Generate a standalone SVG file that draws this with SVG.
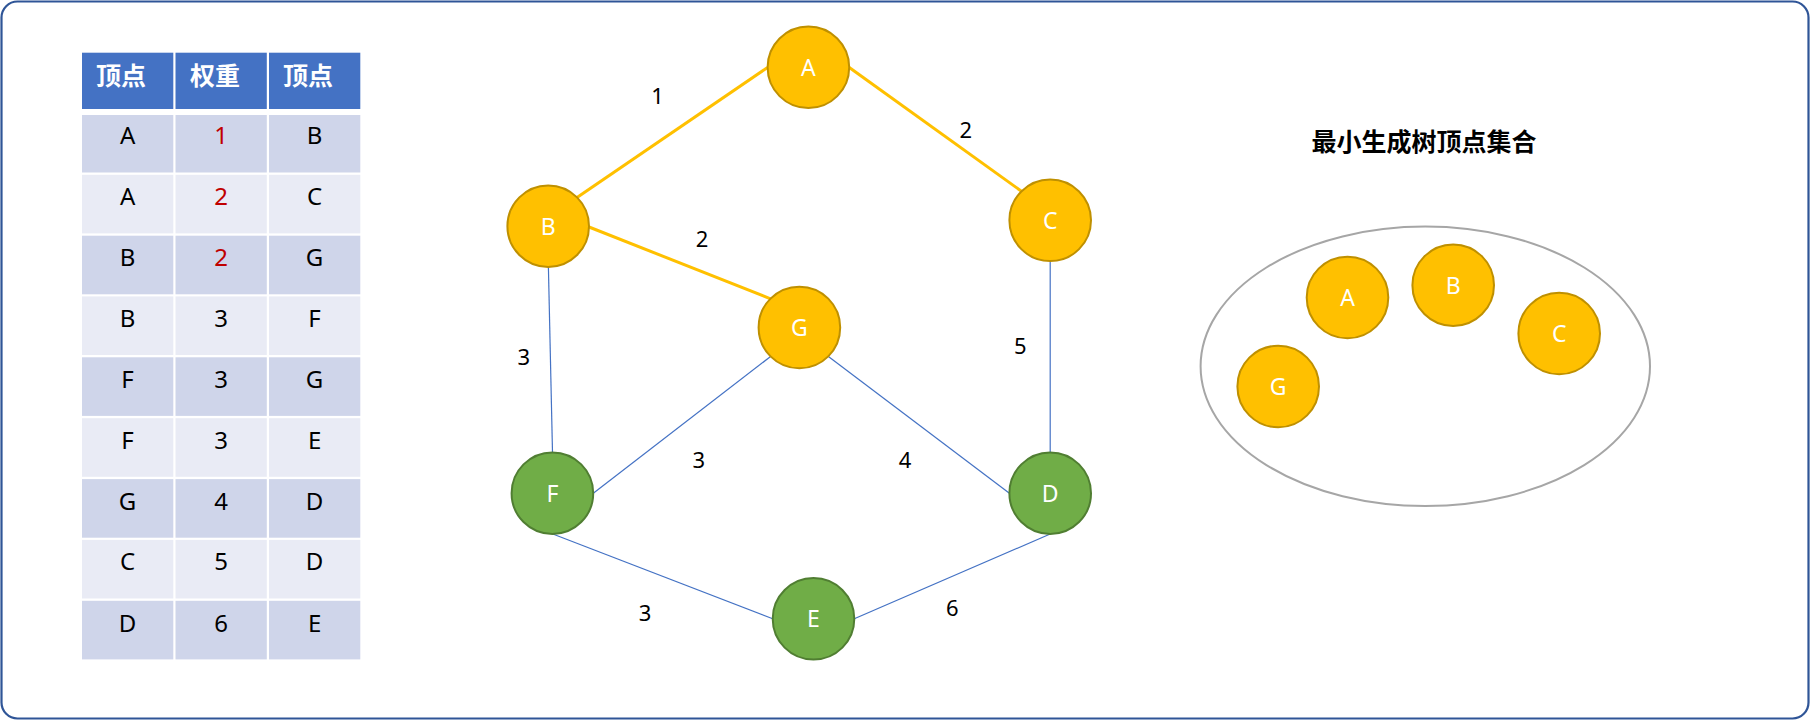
<svg xmlns="http://www.w3.org/2000/svg" width="1810" height="720" viewBox="0 0 1810 720">
<style>
.frame{fill:#fff;stroke:#2F5597;stroke-width:2.2}
.hdr{fill:#4472C4}
.odd{fill:#CFD5EA}
.even{fill:#E9EBF5}
.ht{font-family:"Noto Sans CJK SC","Noto Sans",sans-serif;font-weight:bold;font-size:25px;fill:#fff}
.tt{font-family:"Noto Sans","Open Sans",sans-serif;font-size:24px;fill:#000;text-anchor:middle}
.red{fill:#C00000}
.gold{fill:#FFC000;stroke:#BF9000;stroke-width:2}
.green{fill:#70AD47;stroke:#507E32;stroke-width:2}
.nl{font-family:"Noto Sans","Open Sans",sans-serif;font-size:23px;fill:#fff;text-anchor:middle}
.el{font-family:"Noto Sans","Open Sans",sans-serif;font-size:22px;fill:#000;text-anchor:middle}
.mst{stroke:#FFC000;stroke-width:3;fill:none}
.thin{stroke:#4472C4;stroke-width:1.2;fill:none}
.title{font-family:"Noto Sans CJK SC","Noto Sans",sans-serif;font-weight:bold;font-size:25px;fill:#000;text-anchor:middle}
.set{fill:none;stroke:#A6A6A6;stroke-width:2}
</style>
<rect class="frame" x="1.5" y="1.5" width="1807" height="717" rx="16" ry="16"/>
<g id="table">
<rect class="hdr" x="82" y="52.7" width="91.3" height="56.3"/>
<rect class="hdr" x="175.5" y="52.7" width="91.3" height="56.3"/>
<rect class="hdr" x="269" y="52.7" width="91.3" height="56.3"/>
<text class="ht" x="96" y="85">顶点</text>
<text class="ht" x="190" y="85">权重</text>
<text class="ht" x="283" y="85">顶点</text>
<g class="odd"><rect x="82" y="115" width="91.3" height="57.5"/><rect x="175.5" y="115" width="91.3" height="57.5"/><rect x="269" y="115" width="91.3" height="57.5"/></g>
<g class="even"><rect x="82" y="174.8" width="91.3" height="58.6"/><rect x="175.5" y="174.8" width="91.3" height="58.6"/><rect x="269" y="174.8" width="91.3" height="58.6"/></g>
<g class="odd"><rect x="82" y="235.7" width="91.3" height="58.6"/><rect x="175.5" y="235.7" width="91.3" height="58.6"/><rect x="269" y="235.7" width="91.3" height="58.6"/></g>
<g class="even"><rect x="82" y="296.4" width="91.3" height="58.6"/><rect x="175.5" y="296.4" width="91.3" height="58.6"/><rect x="269" y="296.4" width="91.3" height="58.6"/></g>
<g class="odd"><rect x="82" y="357.3" width="91.3" height="58.6"/><rect x="175.5" y="357.3" width="91.3" height="58.6"/><rect x="269" y="357.3" width="91.3" height="58.6"/></g>
<g class="even"><rect x="82" y="418.2" width="91.3" height="58.6"/><rect x="175.5" y="418.2" width="91.3" height="58.6"/><rect x="269" y="418.2" width="91.3" height="58.6"/></g>
<g class="odd"><rect x="82" y="479.1" width="91.3" height="58.6"/><rect x="175.5" y="479.1" width="91.3" height="58.6"/><rect x="269" y="479.1" width="91.3" height="58.6"/></g>
<g class="even"><rect x="82" y="539.9" width="91.3" height="58.6"/><rect x="175.5" y="539.9" width="91.3" height="58.6"/><rect x="269" y="539.9" width="91.3" height="58.6"/></g>
<g class="odd"><rect x="82" y="600.8" width="91.3" height="58.6"/><rect x="175.5" y="600.8" width="91.3" height="58.6"/><rect x="269" y="600.8" width="91.3" height="58.6"/></g>
<text class="tt" x="127.6" y="144">A</text><text class="tt red" x="221.2" y="144">1</text><text class="tt" x="314.6" y="144">B</text>
<text class="tt" x="127.6" y="205">A</text><text class="tt red" x="221.2" y="205">2</text><text class="tt" x="314.6" y="205">C</text>
<text class="tt" x="127.6" y="266">B</text><text class="tt red" x="221.2" y="266">2</text><text class="tt" x="314.6" y="266">G</text>
<text class="tt" x="127.6" y="326.8">B</text><text class="tt" x="221.2" y="326.8">3</text><text class="tt" x="314.6" y="326.8">F</text>
<text class="tt" x="127.6" y="388">F</text><text class="tt" x="221.2" y="388">3</text><text class="tt" x="314.6" y="388">G</text>
<text class="tt" x="127.6" y="449">F</text><text class="tt" x="221.2" y="449">3</text><text class="tt" x="314.6" y="449">E</text>
<text class="tt" x="127.6" y="509.5">G</text><text class="tt" x="221.2" y="509.5">4</text><text class="tt" x="314.6" y="509.5">D</text>
<text class="tt" x="127.6" y="570.3">C</text><text class="tt" x="221.2" y="570.3">5</text><text class="tt" x="314.6" y="570.3">D</text>
<text class="tt" x="127.6" y="631.5">D</text><text class="tt" x="221.2" y="631.5">6</text><text class="tt" x="314.6" y="631.5">E</text>
</g>
<g id="connectors">
<line class="mst" x1="767.5" y1="67.5" x2="577" y2="197.5"/>
<line class="mst" x1="849.3" y1="67.5" x2="1021.8" y2="191.5"/>
<line class="mst" x1="589" y1="227" x2="770.6" y2="298.8"/>
<line class="thin" x1="548.4" y1="267" x2="552.5" y2="452.3"/>
<line class="thin" x1="1050.2" y1="261" x2="1050.2" y2="452.3"/>
<line class="thin" x1="770.6" y1="356.5" x2="593.3" y2="493.2"/>
<line class="thin" x1="828.4" y1="356.5" x2="1009.4" y2="493.2"/>
<line class="thin" x1="552.8" y1="534" x2="772.7" y2="618.8"/>
<line class="thin" x1="854.3" y1="618.8" x2="1050.2" y2="534"/>
<text class="el" x="657.6" y="104">1</text>
<text class="el" x="965.7" y="137.7">2</text>
<text class="el" x="702" y="246.7">2</text>
<text class="el" x="523.7" y="365">3</text>
<text class="el" x="1020.4" y="354">5</text>
<text class="el" x="698.8" y="468.3">3</text>
<text class="el" x="905" y="467.7">4</text>
<text class="el" x="645" y="621">3</text>
<text class="el" x="952.2" y="616">6</text>
</g>
<g id="node-A"><circle class="gold" cx="808.4" cy="67.3" r="40.8"/><text class="nl" x="808.4" y="75.8">A</text></g>
<g id="node-B"><circle class="gold" cx="548.2" cy="226.2" r="40.8"/><text class="nl" x="548.2" y="234.7">B</text></g>
<g id="node-C"><circle class="gold" cx="1050.2" cy="220.3" r="40.8"/><text class="nl" x="1050.2" y="228.8">C</text></g>
<g id="node-G"><circle class="gold" cx="799.4" cy="327.5" r="40.8"/><text class="nl" x="799.4" y="336">G</text></g>
<g id="node-F"><circle class="green" cx="552.4" cy="493.2" r="40.8"/><text class="nl" x="552.4" y="501.7">F</text></g>
<g id="node-D"><circle class="green" cx="1050.2" cy="493.2" r="40.8"/><text class="nl" x="1050.2" y="501.7">D</text></g>
<g id="node-E"><circle class="green" cx="813.5" cy="618.8" r="40.8"/><text class="nl" x="813.5" y="627.3">E</text></g>
<g id="mst-set">
<text class="title" x="1424" y="150.5">最小生成树顶点集合</text>
<ellipse class="set" cx="1425.3" cy="366.3" rx="224.7" ry="139.7"/>
<g id="set-A"><circle class="gold" cx="1347.5" cy="297.5" r="40.8"/><text class="nl" x="1347.5" y="306">A</text></g>
<g id="set-B"><circle class="gold" cx="1453.2" cy="285.2" r="40.8"/><text class="nl" x="1453.2" y="293.7">B</text></g>
<g id="set-C"><circle class="gold" cx="1559.2" cy="333.5" r="40.8"/><text class="nl" x="1559.2" y="342">C</text></g>
<g id="set-G"><circle class="gold" cx="1278.2" cy="386.5" r="40.8"/><text class="nl" x="1278.2" y="395">G</text></g>
</g>
</svg>
